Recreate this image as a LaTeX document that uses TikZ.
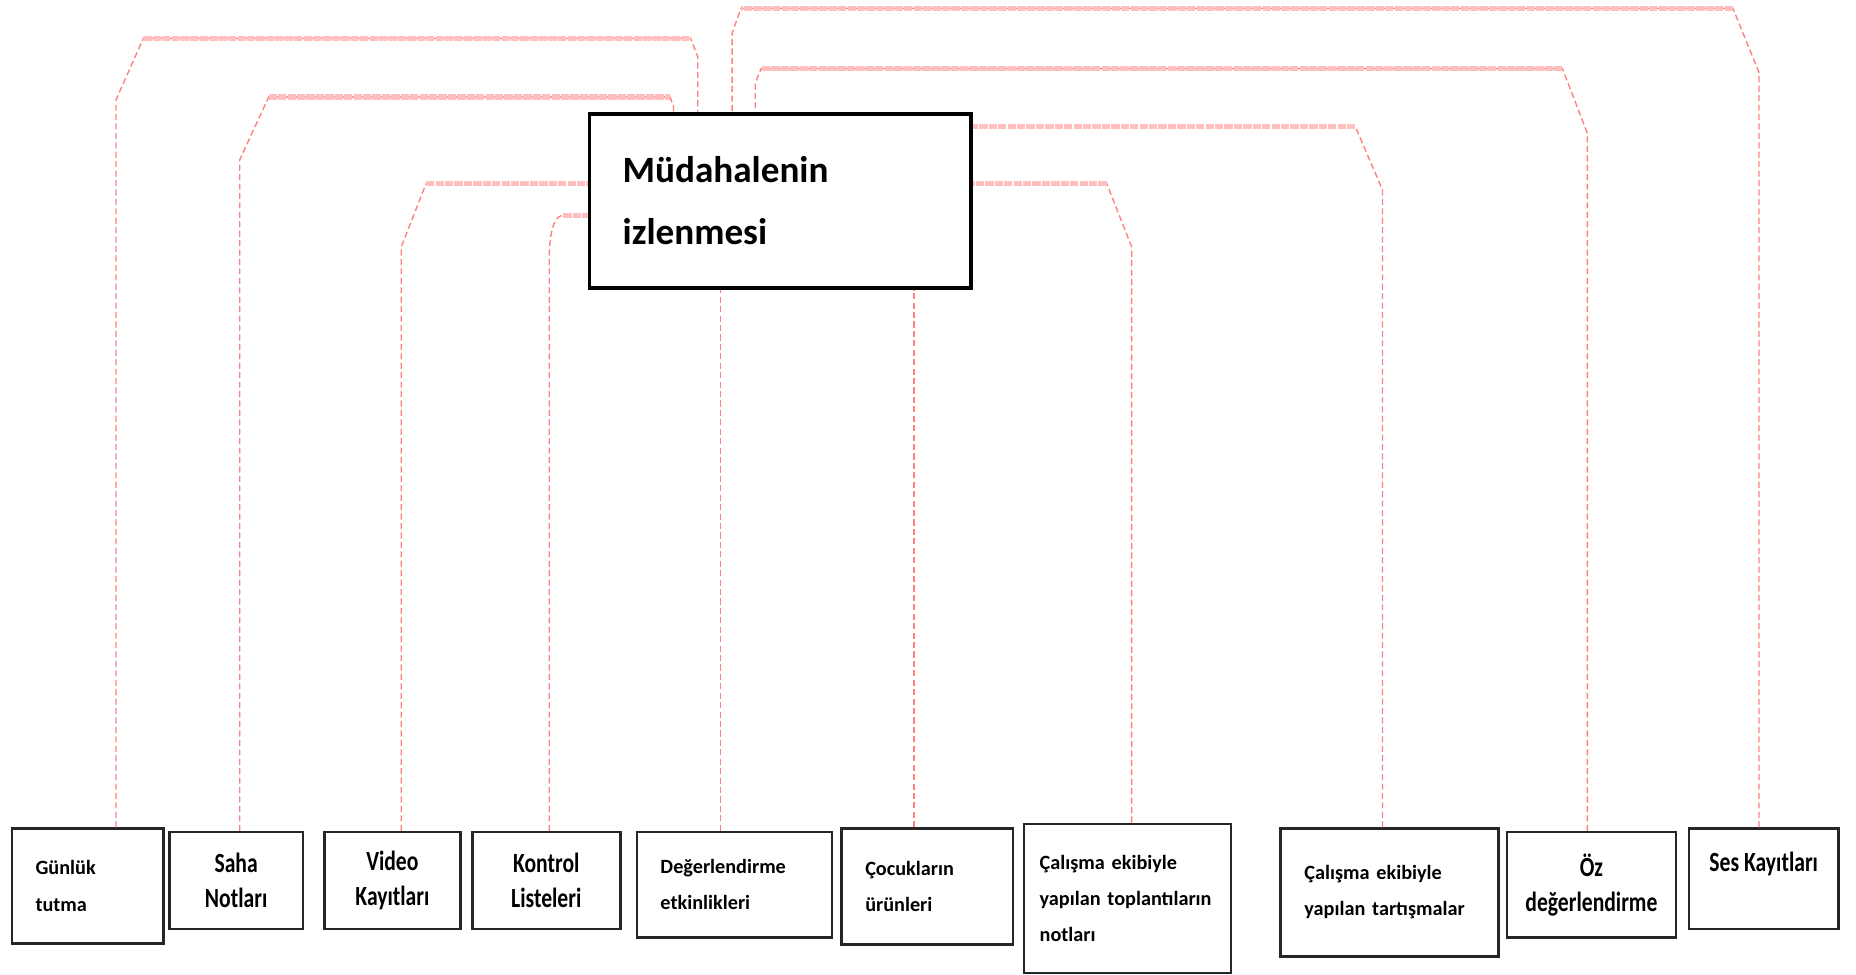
\documentclass[tikz,border=0pt]{standalone}
\usepackage{fontspec}
\setmainfont{Carlito}
\newfontfamily\narrowfont[FakeStretch=0.78]{Carlito}
\usetikzlibrary{positioning}
\tikzset{
  box/.style={draw=black!85, line width=0.9pt, fill=white, inner xsep=0.3cm, align=left,
    font=\bfseries\fontsize{7.3}{13}\selectfont},
  narrowbox/.style={box, inner xsep=2pt, align=center,
    font=\narrowfont\bfseries\fontsize{10}{12.5}\selectfont},
  mainbox/.style={draw=black, line width=1.4pt, fill=white, inner xsep=0.42cm, align=left,
    text width=3.99cm, minimum height=2.205cm, font=\bfseries\fontsize{13.4}{22.6}\selectfont},
  link/.style={red!50, line width=0.5pt, dash pattern=on 2.2pt off 1.2pt},
  bar/.style={red!25, line width=2pt, dash pattern=on 3pt off 0.4pt}
}

\begin{document}
\begin{tikzpicture}[x=0.015cm, y=-0.015cm]
    \useasboundingbox (0,0) rectangle (1568,823);

    \node[mainbox] (main) at (659,169.5) {Müdahalenin\\izlenmesi};

    \node[box, text width=1.32cm, minimum height=1.455cm] (gunluk) at (74,748.5) {Günlük\\tutma};
    \node[narrowbox, minimum width=1.695cm, minimum height=1.23cm] (saha) at (199.5,744) {Saha\\Notları};
    \node[narrowbox, minimum width=1.725cm, minimum height=1.23cm] (video) at (331.5,744) {Video\\Kayıtları};
    \node[narrowbox, minimum width=1.875cm, minimum height=1.23cm] (kontrol) at (461.5,744) {Kontrol\\Listeleri};
    \node[box, text width=1.875cm, minimum height=1.335cm] (deger) at (620.5,747.5) {Değerlendirme\\etkinlikleri};
    \node[box, text width=1.575cm, minimum height=1.47cm] (cocuk) at (783.5,749) {Çocukların\\ürünleri};
    \node[box, inner xsep=0.2cm, text width=2.225cm, minimum height=1.89cm] (toplanti) at (952.5,759) {Çalışma ekibiyle\\yapılan toplantıların\\notları};
    \node[box, text width=2.16cm, minimum height=1.62cm] (tartisma) at (1174,754) {Çalışma ekibiyle\\yapılan tartışmalar};
    \node[narrowbox, minimum width=2.145cm, minimum height=1.335cm] (oz) at (1344.5,747.5) {Öz\\değerlendirme};
    \node[narrowbox, minimum width=1.89cm, minimum height=1.275cm] (ses) at (1490,742.5) {Ses Kayıtları\\~};

    % connectors over the top
    \draw[link] (98,0 |- gunluk.north) -- (98,84.5) -- (121,32.5) -- (583.5,32.5) -- (589.5,48) -- (589.5,0 |- main.north);
    \draw[bar] (121,32.5) -- (583.5,32.5);
    \draw[link] (202.5,0 |- saha.north) -- (202.5,135) -- (227,82) -- (566,82) -- (569,90) -- (569,0 |- main.north);
    \draw[bar] (227,82) -- (566,82);
    \draw[link] (1341,0 |- oz.north) -- (1341,112.5) -- (1320,58) -- (643,58) -- (638,70) -- (638,0 |- main.north);
    \draw[bar] (1320,58) -- (643,58);
    \draw[link] (1486,0 |- ses.north) -- (1486,61) -- (1464,7) -- (626,7) -- (618.5,28) -- (618.5,0 |- main.north);
    \draw[bar] (1464,7) -- (626,7);

    % connectors to the sides
    \draw[link] (339,0 |- video.north) -- (339,208.5) -- (360,155);
    \draw[bar] (360,155) -- (360,155 -| main.west);
    \draw[link] (464,0 |- kontrol.north) -- (464,214) .. controls (465,192) and (469,182) .. (476,182);
    \draw[bar] (476,182) -- (476,182 -| main.west);
    \draw[link] (956,0 |- toplanti.north) -- (956,208.5) -- (935,155);
    \draw[bar] (935,155) -- (935,155 -| main.east);
    \draw[link] (1168,0 |- tartisma.north) -- (1168,160.5) -- (1145,107);
    \draw[bar] (1145,107) -- (1145,107 -| main.east);

    % connectors from below
    \draw[link] (608.5,0 |- deger.north) -- (608.5,0 |- main.south);
    \draw[link] (772,0 |- cocuk.north) -- (772,0 |- main.south);
\end{tikzpicture}
\end{document}
